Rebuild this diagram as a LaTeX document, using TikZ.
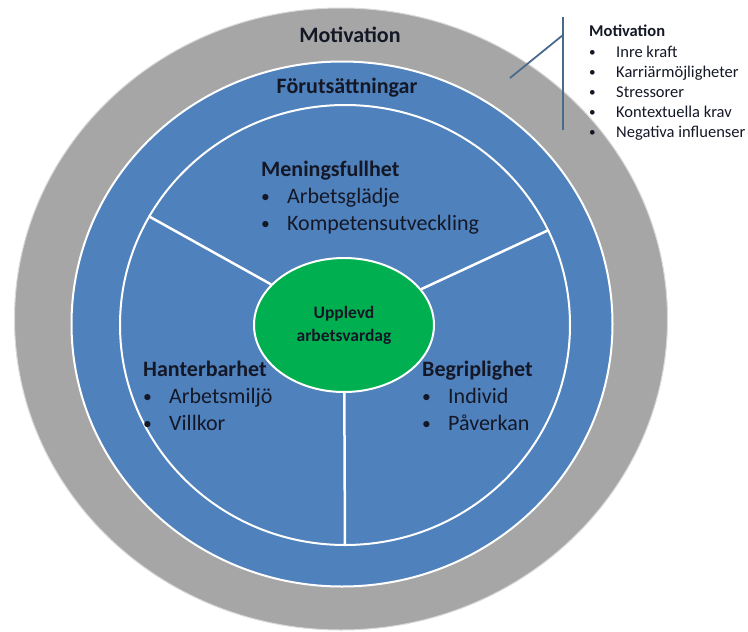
\documentclass[tikz,border=0pt]{standalone}
\usepackage{fontspec}
\setmainfont{Carlito}
\usetikzlibrary{shapes.geometric}
\definecolor{ringgray}{HTML}{A6A6A6}
\definecolor{ringblue}{HTML}{4F81BD}
\definecolor{coregreen}{HTML}{00B050}
\definecolor{legendline}{HTML}{4A6A8C}
\definecolor{inktext}{HTML}{141826}
\newcommand{\itm}[2][26pt]{\makebox[#1][l]{\raisebox{0.12ex}{\scalebox{0.8}{\textbullet}}}#2}

\begin{document}
\begin{tikzpicture}[x=1pt, y=-1pt,
    ring/.style={ellipse, inner sep=0pt, draw=white, line width=2pt},
    divider/.style={draw=white, line width=2.5pt},
    title/.style={font=\fontsize{22}{26}\selectfont\bfseries, text=inktext},
    block/.style={align=left, inner sep=0pt, anchor=north west, text=inktext,
      font=\fontsize{22}{27}\selectfont},
    legend/.style={align=left, inner sep=0pt, anchor=north west, text=inktext,
      font=\fontsize{16.5}{20.2}\selectfont}]
    \useasboundingbox (0,0) rectangle (748,632);
    % rings
    \node[ring, draw=black!15, line width=1pt, fill=ringgray,
      minimum width=653pt, minimum height=622pt] (motring) at (341, 319) {};
    \node[ring, fill=ringblue, minimum width=541pt, minimum height=525pt] (forring) at (342, 324) {};
    \node[ring, fill=ringblue, minimum width=450pt, minimum height=440pt] (inner) at (345, 325) {};
    \node[ring, fill=coregreen, minimum width=180pt, minimum height=134pt,
      align=center, font=\fontsize{17.5}{23}\selectfont\bfseries, text=inktext] (core) at (344, 325) {Upplevd\\arbetsvardag};
    \draw [divider] (inner.151) -- (core);
    \draw [divider] (inner.25) -- (core);
    \draw [divider] (inner.270) -- (core);
    % labels
    \node[title] (mot) at (350, 35) {Motivation};
    \node[title] (forut) at (347, 88) {Förutsättningar};
    \node[block] (mean) at (261, 161) {\textbf{Meningsfullhet}\\ \itm{Arbetsglädje}\\ \itm{Kompetensutveckling}};
    \node[block] (hant) at (143, 361) {\textbf{Hanterbarhet}\\ \itm{Arbetsmiljö}\\ \itm{Villkor}};
    \node[block] (begr) at (422, 361) {\textbf{Begriplighet}\\ \itm{Individ}\\ \itm{Påverkan}};
    % legend
    \node[legend] (leg) at (589, 25) {\textbf{Motivation}\\ \itm[27pt]{Inre kraft}\\ \itm[27pt]{Karriärmöjligheter}\\
      \itm[27pt]{Stressorer}\\ \itm[27pt]{Kontextuella krav}\\ \itm[27pt]{Negativa influenser}};
    \coordinate (brtop) at (563, 17);
    \coordinate (brbot) at (563, 130);
    \coordinate (brjoin) at (563, 35);
    \coordinate (brtip) at (510, 78);
    \draw [legendline, line width=1.8pt] (brtop) -- (brbot);
    \draw [legendline, line width=1.8pt] (brjoin) -- (brtip);
\end{tikzpicture}
\end{document}
